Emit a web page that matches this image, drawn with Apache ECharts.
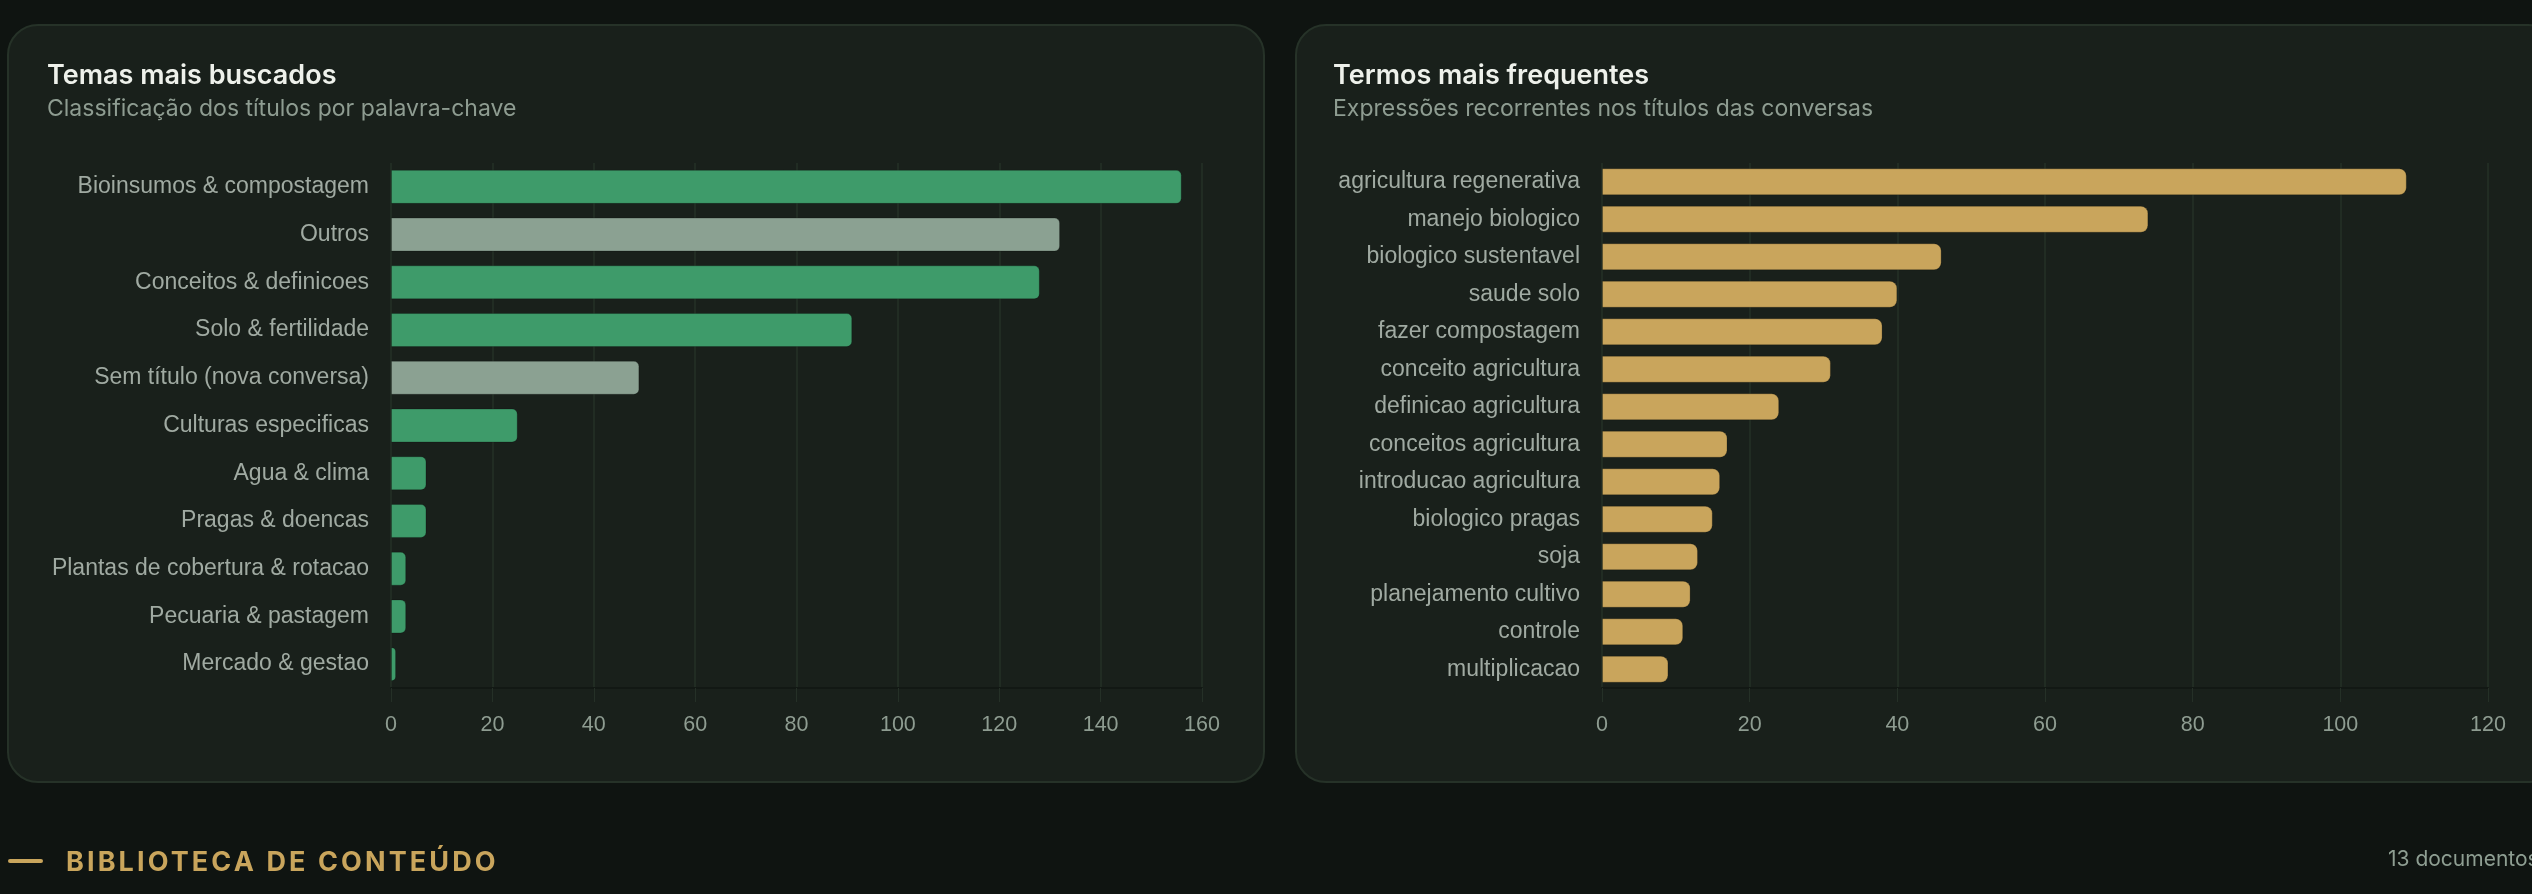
<!DOCTYPE html>
<html>
<head>
<meta charset="utf-8">
<script src="https://cdn.jsdelivr.net/npm/echarts@6/dist/echarts.min.js"></script>
<style>
html,body{margin:0;padding:0;background:#0f1411;overflow:hidden;}
#container{position:absolute;left:0;top:0;width:2532px;height:894px;}
.secao{position:absolute;left:8px;top:845px;height:32px;display:flex;align-items:center;}
.secao .traco{width:35px;height:4px;border-radius:2px;background:#c9a55c;margin-right:23px;}
.secao .nome{font-family:Inter,"Liberation Sans",sans-serif;font-weight:700;font-size:27px;letter-spacing:3.1px;color:#c9a55c;}
.contagem{position:absolute;left:2388px;top:846px;font-family:Inter,"Liberation Sans",sans-serif;font-size:21px;color:#8e9e92;white-space:nowrap;}
</style>
</head>
<body>
<div id="container"></div>
<div class="secao"><div class="traco"></div><div class="nome">BIBLIOTECA DE CONTEÚDO</div></div>
<div class="contagem">13 documentos</div>
<script>
// temas (classificacao por palavra-chave)
var temasCategorias = ['Bioinsumos & compostagem', 'Outros', 'Conceitos & definicoes', 'Solo & fertilidade',
	'Sem título (nova conversa)', 'Culturas especificas', 'Agua & clima', 'Pragas & doencas',
	'Plantas de cobertura & rotacao', 'Pecuaria & pastagem', 'Mercado & gestao'];
var temasValores = [156, 132, 128, 91, 49, 25, 7, 7, 3, 3, 1];
var temasNeutros = ['Outros', 'Sem título (nova conversa)'];   // pintados de cinza
var temasTicks = [0, 20, 40, 60, 80, 100, 120, 140, 160];

// termos mais frequentes
var termosCategorias = ['agricultura regenerativa', 'manejo biologico', 'biologico sustentavel', 'saude solo',
	'fazer compostagem', 'conceito agricultura', 'definicao agricultura', 'conceitos agricultura',
	'introducao agricultura', 'biologico pragas', 'soja', 'planejamento cultivo', 'controle', 'multiplicacao'];
var termosValores = [109, 74, 46, 40, 38, 31, 24, 17, 16, 15, 13, 12, 11, 9];
var termosTicks = [0, 20, 40, 60, 80, 100, 120];

var painel = {
	verde: '#3e9b6a',
	cinza: '#8ba192',
	ouro: '#c9a55c',
	grade: '#253027',
	rotulo: '#a0aaa2',
	eixoX: function(idx, ticks){
		return {
			type: 'value',
			gridIndex: idx,
			min: ticks[0],
			max: ticks[ticks.length - 1],
			interval: ticks[1] - ticks[0],
			axisLine: {show: true, lineStyle: {color: '#121814', width: 2}},
			axisTick: {show: true, length: 14, lineStyle: {color: painel.grade}},
			axisLabel: {color: '#8e9c91', fontSize: 21.5, margin: 26, fontFamily: 'Liberation Sans'},
			splitLine: {show: true, lineStyle: {color: painel.grade, width: 1.5}}
		};
	},
	eixoY: function(idx, cats){
		return {
			type: 'category',
			gridIndex: idx,
			data: cats,
			inverse: true,
			axisLine: {show: false},
			axisTick: {show: false},
			splitLine: {show: false},
			axisLabel: {color: painel.rotulo, fontSize: 23, margin: 22, fontFamily: 'Liberation Sans'}
		};
	},
	cartao: function(x, w){
		return {
			type: 'rect',
			shape: {x: x, y: 25, width: w, height: 757, r: 30},
			style: {fill: '#19201b', stroke: '#263228', lineWidth: 2}
		};
	},
	texto: function(x, y, t, size, cor, peso){
		return {
			type: 'text',
			x: x, y: y,
			style: {text: t, fill: cor, fontSize: size, fontWeight: peso, fontFamily: 'Inter', verticalAlign: 'middle'}
		};
	}
};

var chart = echarts.init(document.getElementById('container'), null, {renderer: 'canvas'});
var option = {
	backgroundColor: '#0f1411',
	animation: false,
	graphic: [
		painel.cartao(8, 1256),
		painel.cartao(1296, 1262),
		painel.texto(47, 76, 'Temas mais buscados', 27, '#eef1eb', 600),
		painel.texto(47, 109, 'Classificação dos títulos por palavra-chave', 23, '#8e9c91', 400),
		painel.texto(1333, 76, 'Termos mais frequentes', 27, '#eef1eb', 600),
		painel.texto(1333, 109, 'Expressões recorrentes nos títulos das conversas', 23, '#8e9c91', 400)
	],
	grid: [
		{left: 391, top: 163, width: 811, height: 525},
		{left: 1602, top: 163, width: 886, height: 525}
	],
	xAxis: [painel.eixoX(0, temasTicks), painel.eixoX(1, termosTicks)],
	yAxis: [painel.eixoY(0, temasCategorias), painel.eixoY(1, termosCategorias)],
	series: [{
		type: 'bar',
		xAxisIndex: 0,
		yAxisIndex: 0,
		barWidth: 34,
		data: temasValores,
		itemStyle: {
			borderRadius: [0, 5, 5, 0],
			borderColor: 'rgba(0,0,0,0.22)',
			borderWidth: 1,
			color: function(p){
				return temasNeutros.indexOf(p.name) >= 0 ? painel.cinza : painel.verde;
			}
		}
	}, {
		type: 'bar',
		xAxisIndex: 1,
		yAxisIndex: 1,
		barWidth: 27,
		data: termosValores,
		itemStyle: {
			color: painel.ouro,
			borderRadius: [0, 7, 7, 0],
			borderColor: 'rgba(0,0,0,0.22)',
			borderWidth: 1
		}
	}]
};
chart.setOption(option);
</script>
</body>
</html>
